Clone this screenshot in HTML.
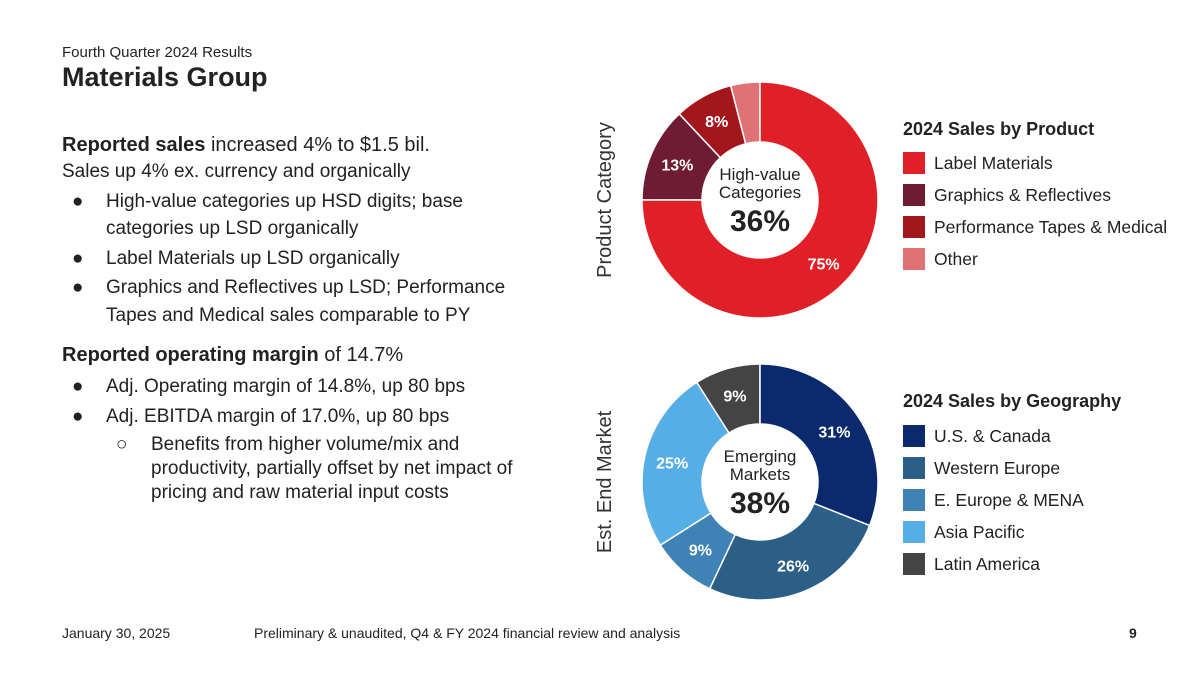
<!DOCTYPE html>
<html><head><meta charset="utf-8"><style>
body{margin:0;width:1200px;height:675px;background:#fff;font-family:"Liberation Sans",sans-serif;color:#222;position:relative;overflow:hidden}
.t{position:absolute;white-space:nowrap}
.b{font-size:19px;line-height:30px}
.lg{position:absolute;left:903px;width:22px;height:22px}
.lt{position:absolute;left:934px;font-size:17.5px;white-space:nowrap}
</style></head><body>
<div class="t" style="left:62px;top:44px;font-size:15px">Fourth Quarter 2024 Results</div>
<div class="t" style="left:62px;top:62px;font-size:27px;font-weight:bold">Materials Group</div>
<div>
<div class="t b" style="left:62px;top:130px;font-size:20px"><b>Reported sales</b> increased 4% to $1.5 bil.</div>
<div class="t b" style="left:62px;top:157px">Sales up 4% ex. currency and organically</div>
<div class="t b" style="left:72px;top:187px">●</div><div class="t b" style="left:106px;top:187px">High-value categories up HSD digits; base</div>
<div class="t b" style="left:106px;top:214px">categories up LSD organically</div>
<div class="t b" style="left:72px;top:244px">●</div><div class="t b" style="left:106px;top:244px">Label Materials up LSD organically</div>
<div class="t b" style="left:72px;top:273px">●</div><div class="t b" style="left:106px;top:273px">Graphics and Reflectives up LSD; Performance</div>
<div class="t b" style="left:106px;top:301px">Tapes and Medical sales comparable to PY</div>
<div class="t b" style="left:62px;top:340px;font-size:20px"><b>Reported operating margin</b> of 14.7%</div>
<div class="t b" style="left:72px;top:372px">●</div><div class="t b" style="left:106px;top:372px">Adj. Operating margin of 14.8%, up 80 bps</div>
<div class="t b" style="left:72px;top:402px">●</div><div class="t b" style="left:106px;top:402px">Adj. EBITDA margin of 17.0%, up 80 bps</div>
<div class="t b" style="left:116px;top:430px">○</div><div class="t b" style="left:151px;top:430px">Benefits from higher volume/mix and</div>
<div class="t b" style="left:151px;top:454px">productivity, partially offset by net impact of</div>
<div class="t b" style="left:151px;top:478px">pricing and raw material input costs</div>
</div>
<svg id="ch" width="1200" height="675" style="position:absolute;left:0;top:0">
<text transform="translate(611,200) rotate(-90)" text-anchor="middle" font-size="20" fill="#333">Product Category</text>
<text transform="translate(611,482) rotate(-90)" text-anchor="middle" font-size="20" fill="#333">Est. End Market</text>
<text x="760" y="180" text-anchor="middle" font-size="17" fill="#222">High-value</text>
<text x="760" y="198" text-anchor="middle" font-size="17" fill="#222">Categories</text>
<text x="760" y="231" text-anchor="middle" font-size="30" font-weight="bold" fill="#222">36%</text>
<text x="760" y="462" text-anchor="middle" font-size="17" fill="#222">Emerging</text>
<text x="760" y="480" text-anchor="middle" font-size="17" fill="#222">Markets</text>
<text x="760" y="513" text-anchor="middle" font-size="30" font-weight="bold" fill="#222">38%</text>
</svg>
<div class="t" style="left:903px;top:119px;font-size:18px;font-weight:bold">2024 Sales by Product</div>
<div class="t" style="left:903px;top:391px;font-size:18px;font-weight:bold">2024 Sales by Geography</div>
<div id="legends"></div>
<div class="t" style="left:62px;top:625px;font-size:14px">January 30, 2025</div>
<div class="t" style="left:254px;top:625px;font-size:14px">Preliminary &amp; unaudited, Q4 &amp; FY 2024 financial review and analysis</div>
<div class="t" style="left:1129px;top:625px;font-size:14px;font-weight:bold">9</div>
<script>
const productCats=["Label Materials","Graphics & Reflectives","Performance Tapes & Medical","Other"];
const productVals=[75,13,8,4];
const productColors=["#e01f26","#6e1b33","#a3161b","#e07275"];
const geoCats=["U.S. & Canada","Western Europe","E. Europe & MENA","Asia Pacific","Latin America"];
const geoVals=[31,26,9,25,9];
const geoColors=["#0b2a6e","#2b5f87","#3f82b5","#56aee6","#444444"];
const svg=document.getElementById('ch');const NS="http://www.w3.org/2000/svg";
function pt(cx,cy,r,f){const a=f*2*Math.PI;return [cx+r*Math.sin(a),cy-r*Math.cos(a)];}
function donut(cx,cy,vals,cols,name,showMin){
 const tot=vals.reduce((a,b)=>a+b,0);let c=0;const R=118,r=58;
 vals.forEach((v,i)=>{const f0=c/tot,f1=(c+v)/tot;c+=v;
  const [x0,y0]=pt(cx,cy,R,f0),[x1,y1]=pt(cx,cy,R,f1),[x2,y2]=pt(cx,cy,r,f1),[x3,y3]=pt(cx,cy,r,f0);
  const lg=(f1-f0)>0.5?1:0;
  const p=document.createElementNS(NS,'path');
  p.setAttribute('d',`M${x0},${y0}A${R},${R} 0 ${lg} 1 ${x1},${y1}L${x2},${y2}A${r},${r} 0 ${lg} 0 ${x3},${y3}Z`);
  p.setAttribute('fill',cols[i]);p.setAttribute('stroke','#fff');p.setAttribute('stroke-width','1.5');
  
  
  svg.insertBefore(p,svg.firstChild);
  if(v>=showMin){const [lx,ly]=pt(cx,cy,90,(f0+f1)/2);
   const t=document.createElementNS(NS,'text');t.setAttribute('x',lx);t.setAttribute('y',ly+6);
   t.setAttribute('text-anchor','middle');t.setAttribute('fill','#fff');t.setAttribute('font-size','16');t.setAttribute('font-weight','bold');
   t.textContent=v+'%';
   
   
   svg.appendChild(t);}
 });
}
donut(760,200,productVals,productColors,'product',5);
donut(760,482,geoVals,geoColors,'geo',5);
const L=document.getElementById('legends');
function legend(cats,cols,top,name){cats.forEach((c,i)=>{
 const s=document.createElement('div');s.className='lg';s.style.top=(top+i*32)+'px';s.style.background=cols[i];
 
 
 const t=document.createElement('div');t.className='lt';t.style.top=(top+i*32+1)+'px';t.textContent=c;
 
 
 L.appendChild(s);L.appendChild(t);});}
legend(productCats,productColors,152,'product');
legend(geoCats,geoColors,425,'geo');
</script>
</body></html>
